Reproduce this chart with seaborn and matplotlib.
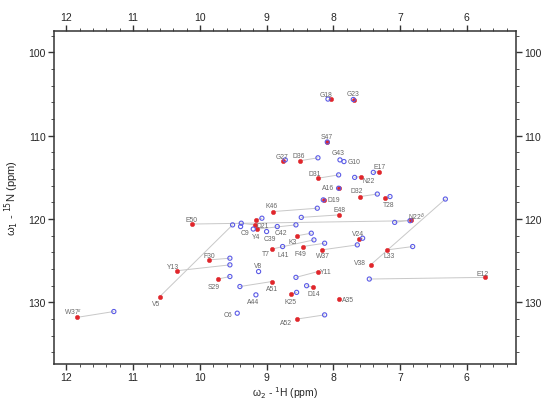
import numpy as np
import pandas as pd
import matplotlib
matplotlib.use("Agg")
import matplotlib.pyplot as plt
from matplotlib.ticker import MultipleLocator
import seaborn as sns

nan = np.nan

# Residue labels ("" = unlabeled peak)
residues = ["G18", "G23", "S47", "G27", "D36", "G43", "G10", "E17", "D31", "N22",
            "A16", "D32", "T28", "D19", "K46", "E48", "E50", "N22$^δ$", "C9", "D21",
            "", "", "Y4", "C39", "C42", "K3", "T7", "L41", "F49", "W37",
            "V24", "L33", "V38", "E12", "A35", "F30", "Y13", "V5", "S29", "V8",
            "A51", "Y11", "A44", "K25", "D14", "C6", "A52", "W37$^ε$"]

# 1H / 15N shifts (ppm) of the red (filled) peaks
red_h = [8.03, 7.69, 8.09, 8.75, 8.50, nan, nan, 7.31, 8.23, 7.59,
         7.91, 7.60, 7.23, 8.14, 8.90, 7.91, 10.12, 6.83, nan, 9.18,
         9.16, nan, 9.14, nan, nan, 8.54, 8.92, nan, 8.46, 8.17,
         7.61, 7.19, 7.44, 5.72, 7.91, 9.86, 10.34, 10.60, 9.73, nan,
         8.92, 8.23, nan, 8.64, 8.30, nan, 8.54, 11.84]
red_n = [105.6, 105.7, 110.8, 113.05, 113.0, nan, nan, 114.3, 115.1, 114.9,
         116.3, 117.3, 117.5, 117.7, 119.1, 119.5, 120.6, 120.1, nan, 120.7,
         120.1, nan, 121.2, nan, nan, 122.0, 123.6, nan, 123.3, 123.7,
         122.4, 123.7, 125.5, 127.0, 129.6, 124.9, 126.2, 129.3, 127.2, nan,
         127.5, 126.3, nan, 129.0, 128.2, nan, 132.0, 131.8]

# 1H / 15N shifts (ppm) of the blue (open) peaks
blue_h = [8.08, 7.70, 8.09, 8.72, 8.23, 7.90, 7.84, 7.40, 7.92, 7.68,
          7.92, 7.34, 7.15, 8.15, 8.24, 8.48, 6.85, 7.08, 9.20, 9.38,
          9.07, 9.39, 8.56, 9.00, 8.84, 8.33, 8.29, 8.76, 8.13, 7.64,
          7.56, 6.81, 6.32, 7.46, nan, 9.55, 9.55, 9.51, 9.55, 9.12,
          9.40, 8.56, 9.16, 8.55, 8.40, 9.44, 8.13, 11.29]
blue_n = [105.6, 105.65, 110.75, 112.9, 112.65, 112.9, 113.1, 114.4, 114.7, 115.0,
          116.3, 117.0, 117.3, 117.7, 118.7, 119.8, 120.2, 120.4, 121.2, 120.5,
          119.9, 120.9, 120.7, 121.5, 120.9, 121.7, 122.5, 123.3, 122.9, 123.1,
          122.3, 123.3, 117.6, 127.2, nan, 124.7, 125.5, 120.7, 126.9, 126.3,
          128.1, 127.0, 129.1, 128.8, 128.0, 131.3, 131.5, 131.1]

# label offsets from the peak (pixels, right / up)
label_dx = [-5, -1, -1, -1, -1, -2, 10, 0, -3, 8,
            -11, -3, 4, 10, -2, 0, 0, 5, -8, 8,
            0, 0, -1, 3, 4, -5, -6, 1, -2, 1,
            -1, 2, -11, -3, 9, 0, -4, -4, -4, -1,
            0, 8, -3, 0, 1, -9, -11, -4]
label_dy = [5, 6, 6, 5, 5, 7, 0, 5, 5, -4,
            1, 6, -6, 0, 6, 5, 5, 4, -3, -1,
            0, 0, -7, -7, -6, -6, -4, -8, -7, -6,
            6, -6, 2, 4, 0, 4, 4, -7, -7, 6,
            -7, 0, -7, -7, -6, -1, -3, 6]

df = pd.DataFrame({"res": residues, "red_h": red_h, "red_n": red_n,
                   "blue_h": blue_h, "blue_n": blue_n,
                   "dx": label_dx, "dy": label_dy})

sns.set_style("ticks")
plt.rcParams["font.family"] = ["Liberation Sans", "DejaVu Sans"]

fig = plt.figure(figsize=(5.49, 4.02), dpi=100)
ax = fig.add_axes([0.098, 0.092, 0.842, 0.829])

# connecting lines between the two states
pairs = df.dropna(subset=["red_h", "blue_h"])
for _, r in pairs.iterrows():
    ax.plot([r.red_h, r.blue_h], [r.red_n, r.blue_n], color="#c8c8c8",
            lw=0.7, zorder=1)

sns.scatterplot(data=df.dropna(subset=["red_h"]), x="red_h", y="red_n", ax=ax,
                color="#e0262b", edgecolor="#e0262b", s=10, linewidth=0.3,
                zorder=3)
sns.scatterplot(data=df.dropna(subset=["blue_h"]), x="blue_h", y="blue_n", ax=ax,
                facecolor="none", edgecolor="#5b5be6", s=9, linewidth=0.8,
                zorder=4)

for _, r in df.iterrows():
    if not r.res:
        continue
    if np.isnan(r.red_h):
        x, y = r.blue_h, r.blue_n
    else:
        x, y = r.red_h, r.red_n
    ax.annotate(r.res, (x, y), xytext=(r.dx, r.dy), textcoords="offset pixels",
                ha="center", va="center", fontsize=4.9, color="#666666",
                zorder=5)

ax.set_xlim(12.19, 5.26)
ax.set_ylim(137.4, 97.4)
ax.xaxis.set_major_locator(MultipleLocator(1))
ax.xaxis.set_minor_locator(MultipleLocator(0.2))
ax.yaxis.set_major_locator(MultipleLocator(10))
ax.yaxis.set_minor_locator(MultipleLocator(2))
ax.tick_params(which="both", top=True, right=True, labeltop=True,
               labelright=True, direction="out", color="#333333")
ax.tick_params(which="major", length=4, width=1, labelsize=7.5, pad=2)
ax.tick_params(which="minor", length=2, width=0.6)
for s in ax.spines.values():
    s.set_linewidth(1.1)
    s.set_color("#333333")

ax.set_xlabel(r"ω$_2$ - $^1$H (ppm)", fontsize=7.5, labelpad=1)
ax.set_ylabel(r"ω$_1$ - $^{15}$N (ppm)", fontsize=8, labelpad=5)

fig.savefig("out.png", dpi=100)
